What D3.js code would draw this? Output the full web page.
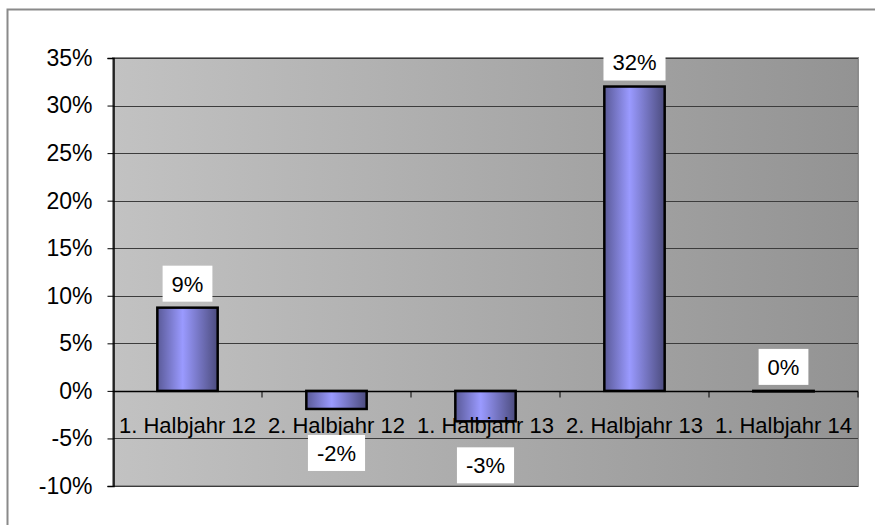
<!DOCTYPE html>
<html>
<head>
<meta charset="utf-8">
<script src="https://cdn.jsdelivr.net/npm/d3@7"></script>
<style>
  html, body { margin: 0; padding: 0; background: #fff; overflow: hidden; }
  svg { display: block; }
  svg text { font-family: "Liberation Sans", Arial, sans-serif; fill: #000; }
</style>
</head>
<body>
<div id="chart"></div>
<script>
// data
var categories = ["1. Halbjahr 12", "2. Halbjahr 12", "1. Halbjahr 13", "2. Halbjahr 13", "1. Halbjahr 14"];
var values = [0.0875, -0.019, -0.032, 0.32, 0];
var labels = ["9%", "-2%", "-3%", "32%", "0%"];
var tickValues = [-0.1, -0.05, 0, 0.05, 0.1, 0.15, 0.2, 0.25, 0.3, 0.35];

var width = 875, height = 525;
var plot = { left: 113, right: 858, top: 58, bottom: 486 };
var fontSize = 22;

var svg = d3.select("#chart").append("svg")
  .attr("width", width).attr("height", height);

var defs = svg.append("defs");

var bg = defs.append("linearGradient").attr("id", "plotBg")
  .attr("x1", "0%").attr("x2", "100%").attr("y1", "0%").attr("y2", "0%");
bg.append("stop").attr("offset", "0%").attr("stop-color", "#c2c2c2");
bg.append("stop").attr("offset", "100%").attr("stop-color", "#939393");

var barFill = defs.append("linearGradient").attr("id", "barFill")
  .attr("x1", "0%").attr("x2", "100%").attr("y1", "0%").attr("y2", "0%");
barFill.append("stop").attr("offset", "0%").attr("stop-color", "#5a5a98");
barFill.append("stop").attr("offset", "42%").attr("stop-color", "#9a9aff");
barFill.append("stop").attr("offset", "100%").attr("stop-color", "#4c4c7e");

// outer chart border (only top and left fall inside the picture)
svg.append("rect")
  .attr("x", 7.5).attr("y", 9.5).attr("width", 900).attr("height", 600)
  .attr("fill", "none").attr("stroke", "#8a8a8a").attr("stroke-width", 2);

var x = d3.scaleBand().domain(categories).range([plot.left, plot.right]).padding(0);
var y = d3.scaleLinear().domain([-0.1, 0.35]).range([plot.bottom, plot.top]);

// plot area
svg.append("rect")
  .attr("x", plot.left).attr("y", plot.top)
  .attr("width", plot.right - plot.left).attr("height", plot.bottom - plot.top)
  .attr("fill", "url(#plotBg)")
  .attr("stroke", "#8c8c8c").attr("stroke-width", 2);

// gridlines
svg.append("g").selectAll("line").data(tickValues.filter(function (d) { return d !== 0; }))
  .enter().append("line")
  .attr("x1", plot.left).attr("x2", plot.right)
  .attr("y1", function (d) { return Math.round(y(d)) + 0.5; })
  .attr("y2", function (d) { return Math.round(y(d)) + 0.5; })
  .attr("stroke", "#3c3c3c").attr("stroke-width", 1);

// y axis (plain hyphen for negatives, as in the original)
var pct = function (d) { return Math.round(d * 100) + "%"; };
var yAxis = d3.axisLeft(y).tickValues(tickValues).tickSize(6).tickPadding(15)
  .tickFormat(pct);
var yg = svg.append("g").attr("transform", "translate(" + (plot.left + 0.5) + ",0)").call(yAxis);
yg.select(".domain").attr("stroke", "#000").attr("stroke-width", 1.5);
yg.selectAll(".tick line").attr("stroke", "#000");
yg.selectAll(".tick text").attr("font-size", 23)
  .attr("font-family", "'Liberation Sans', Arial, sans-serif").attr("fill", "#000");

// bars
var barW = x.bandwidth() * 0.405;
svg.append("g").selectAll("rect").data(values).enter().append("rect")
  .attr("x", function (d, i) { return x(categories[i]) + (x.bandwidth() - barW) / 2; })
  .attr("y", function (d) { return y(Math.max(0, d)); })
  .attr("width", barW)
  .attr("height", function (d) { return Math.max(0.5, Math.abs(y(d) - y(0))); })
  .attr("fill", "url(#barFill)")
  .attr("stroke", "#000").attr("stroke-width", 2.5);

// zero line with category ticks
var y0 = Math.round(y(0)) + 0.5;
svg.append("line")
  .attr("x1", plot.left).attr("x2", plot.right).attr("y1", y0).attr("y2", y0)
  .attr("stroke", "#000").attr("stroke-width", 1.5);
svg.append("g").selectAll("line").data(categories.slice(1).concat([null])).enter().append("line")
  .attr("x1", function (d) { return d ? x(d) : plot.right; })
  .attr("x2", function (d) { return d ? x(d) : plot.right; })
  .attr("y1", y0).attr("y2", y0 + 6)
  .attr("stroke", "#000");

// category labels
svg.append("g").selectAll("text").data(categories).enter().append("text")
  .attr("x", function (d) { return x(d) + x.bandwidth() / 2; })
  .attr("y", y(0) + 42)
  .attr("text-anchor", "middle")
  .attr("font-size", fontSize)
  .text(function (d) { return d; });

// value labels with white boxes
var lab = svg.append("g").selectAll("g").data(values).enter().append("g");
lab.each(function (d, i) {
  var g = d3.select(this);
  var cx = x(categories[i]) + x.bandwidth() / 2;
  var boxH = 36;
  var top = d >= 0 ? y(d) - 6 - boxH : y(d) + 26;
  var rect = g.append("rect").attr("fill", "#fff");
  var t = g.append("text")
    .attr("x", cx).attr("y", top + boxH / 2)
    .attr("dy", "0.36em")
    .attr("text-anchor", "middle")
    .attr("font-size", fontSize)
    .text(labels[i]);
  var w = t.node().getComputedTextLength() + 18;
  rect.attr("x", cx - w / 2).attr("y", top).attr("width", w).attr("height", boxH);
});
</script>
</body>
</html>
